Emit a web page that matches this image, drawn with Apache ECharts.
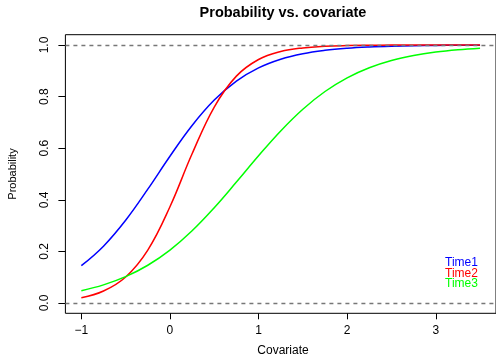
<!DOCTYPE html>
<html>
<head>
<meta charset="utf-8">
<script src="https://cdn.jsdelivr.net/npm/echarts@6/dist/echarts.min.js"></script>
<style>html,body{margin:0;padding:0;background:#fff}#c{width:496px;height:355px}</style>
</head>
<body>
<div id="c"></div>
<script>
const covariate = [-1, -0.75, -0.5, -0.25, 0, 0.25, 0.5, 0.75, 1, 1.25, 1.5, 1.75, 2, 2.25, 2.5, 2.75, 3, 3.25, 3.5];
const time1 = [0.1446, 0.2203, 0.3207, 0.4411, 0.5688, 0.6880, 0.7866, 0.8604, 0.9115, 0.9451, 0.9665, 0.9796, 0.9877, 0.9926, 0.9956, 0.9973, 0.9984, 0.9990, 0.9994];
const time2 = [0.0207, 0.0464, 0.1008, 0.2052, 0.3731, 0.5783, 0.7597, 0.8794, 0.9438, 0.9748, 0.9889, 0.9952, 0.9979, 0.9991, 0.9996, 0.9998, 0.9999, 1.0, 1.0];
const time3 = [0.0476, 0.0701, 0.1020, 0.1462, 0.2050, 0.2799, 0.3694, 0.4688, 0.5708, 0.6671, 0.7512, 0.8198, 0.8727, 0.9117, 0.9397, 0.9591, 0.9725, 0.9816, 0.9877];
const xTicks = [-1, 0, 1, 2, 3];
const yTicks = [0, 0.2, 0.4, 0.6, 0.8, 1.0];
const refLines = [0, 1];
const seriesNames = ['Time1', 'Time2', 'Time3'];
const seriesColors = ['#0000FF', '#FF0000', '#00FF00'];
const seriesValues = [time1, time2, time3];

const FONT = '"Liberation Sans", Arial, Helvetica, sans-serif';
const chart = echarts.init(document.getElementById('c'), null, {renderer: 'canvas'});

const series = seriesValues.map((vals, i) => ({
  name: seriesNames[i],
  type: 'line',
  data: covariate.map((x, j) => [x, vals[j]]),
  smooth: 0.4,
  showSymbol: false,
  lineStyle: {color: seriesColors[i], width: 1.5},
  itemStyle: {color: seriesColors[i]},
  z: 3 + i
}));
series.unshift({
  type: 'line',
  data: [],
  markLine: {
    silent: true,
    symbol: 'none',
    label: {show: false},
    lineStyle: {color: '#777777', type: [4, 4], width: 1.3},
    data: refLines.map(v => ({yAxis: v}))
  },
  z: 2
});

chart.setOption({
  animation: false,
  backgroundColor: '#ffffff',
  grid: {left: 65.4, top: 34.7, width: 435, height: 278.6, show: true, borderColor: '#000000', borderWidth: 1, backgroundColor: 'transparent'},
  xAxis: {
    type: 'value', min: -1.18, max: 3.68,
    axisLine: {show: false, onZero: false},
    splitLine: {show: false},
    axisTick: {show: true, customValues: xTicks, length: 6, lineStyle: {color: '#000'}},
    axisLabel: {show: true, customValues: xTicks, margin: 11, color: '#000', fontFamily: FONT, fontSize: 12,
      formatter: v => (v < 0 ? '\u2212' + Math.abs(v) : String(v))}
  },
  yAxis: {
    type: 'value', min: -0.04, max: 1.04,
    axisLine: {show: false, onZero: false},
    splitLine: {show: false},
    axisTick: {show: true, customValues: yTicks, length: 7, lineStyle: {color: '#000'}},
    axisLabel: {show: true, customValues: yTicks, rotate: 90, margin: 15, color: '#000', fontFamily: FONT, fontSize: 12,
      formatter: v => v.toFixed(1)}
  },
  graphic: [
    {type: 'text', x: 283, y: 13, style: {text: 'Probability vs. covariate', fontFamily: FONT, fontSize: 14.5, fontWeight: 'bold', fill: '#000', align: 'center', verticalAlign: 'middle'}},
    {type: 'text', x: 283, y: 351, style: {text: 'Covariate', fontFamily: FONT, fontSize: 12, fill: '#000', align: 'center', verticalAlign: 'middle'}},
    {type: 'text', x: 13, y: 174, rotation: Math.PI / 2, style: {text: 'Probability', fontFamily: FONT, fontSize: 11, fill: '#000', align: 'center', verticalAlign: 'middle'}},
    ...seriesNames.map((n, i) => ({type: 'text', x: 445, y: 263 + i * 10.3, style: {text: n, fontFamily: FONT, fontSize: 12, fill: seriesColors[i], align: 'left', verticalAlign: 'middle'}}))
  ],
  series: series
});
</script>
</body>
</html>
